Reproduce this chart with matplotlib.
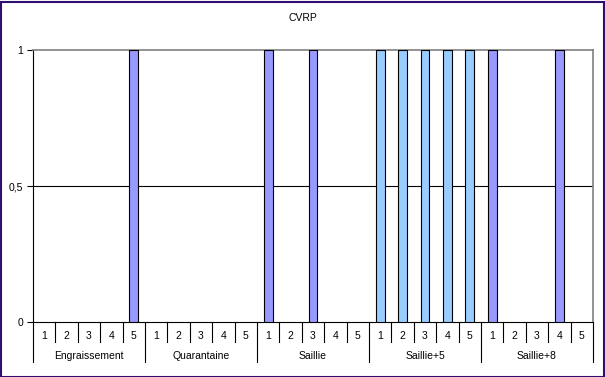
import matplotlib.pyplot as plt
import numpy as np
from matplotlib.patches import Rectangle

plt.rcParams['font.family'] = ['Liberation Sans', 'DejaVu Sans']

groups = ["Engraissement", "Quarantaine", "Saillie", "Saillie+5", "Saillie+8"]
items = ["1", "2", "3", "4", "5"]
# one value per category (5 groups x 5 items)
serie_violet = [0, 0, 0, 0, 1,
                0, 0, 0, 0, 0,
                1, 0, 1, 0, 0,
                0, 0, 0, 0, 0,
                1, 0, 0, 1, 0]
serie_bleu = [0, 0, 0, 0, 0,
              0, 0, 0, 0, 0,
              0, 0, 0, 0, 0,
              1, 1, 1, 1, 1,
              0, 0, 0, 0, 0]
yticks = [0, 0.5, 1]
yticklabels = ["0", "0,5", "1"]

W, H = 605, 377
fig = plt.figure(figsize=(W / 100, H / 100), dpi=100)
fig.patch.set_facecolor("white")
fig.patches.append(Rectangle((0.5 / W, 0.5 / H), 1 - 2 / W, 1 - 2 / H, transform=fig.transFigure,
                             fill=False, edgecolor="#2E0F6E", linewidth=1.5))

left, right, top, bottom = 33, 593, 50, 322
ax = fig.add_axes([left / W, 1 - bottom / H, (right - left) / W, (bottom - top) / H])

n = len(serie_violet)
x = np.arange(n)
for vals, col in [(serie_violet, "#9999FF"), (serie_bleu, "#99CCFF")]:
    v = np.array(vals, dtype=float)
    m = v > 0
    ax.bar(x[m], v[m], width=0.4, color=col, edgecolor="black", linewidth=0.8, zorder=3)

ax.set_xlim(-0.5, n - 0.5)
ax.set_ylim(0, 1)
ax.axhline(0.5, color="black", linewidth=0.8, zorder=1)

for s in ["top", "right"]:
    ax.spines[s].set_color("#808080")
    ax.spines[s].set_linewidth(1.2)
ax.spines["left"].set_color("black")
ax.spines["bottom"].set_color("black")

ax.set_yticks(yticks, labels=yticklabels)
ax.tick_params(axis="y", length=4, width=0.8, labelsize=7.5, pad=3)
ax.set_xticks([])

# category axis: item labels and group labels
trans = ax.get_xaxis_transform()
ph = bottom - top
item_tick = -20 / ph
group_tick = -40 / ph
for i in range(n):
    ax.text(x[i], -14 / ph, items[i % len(items)], transform=trans, ha="center", va="center",
            fontsize=7.5)
for b in range(n + 1):
    y_end = group_tick if b % len(items) == 0 else item_tick
    ax.plot([b - 0.5, b - 0.5], [0, y_end], transform=trans, color="black", linewidth=0.8,
            clip_on=False)
for g, name in enumerate(groups):
    ax.text(g * len(items) + (len(items) - 1) / 2, -34 / ph, name, transform=trans,
            ha="center", va="center", fontsize=7.5)

fig.text(0.5, 1 - 18 / H, "CVRP", ha="center", va="center", fontsize=7.5)

fig.savefig("out.png", dpi=100)
